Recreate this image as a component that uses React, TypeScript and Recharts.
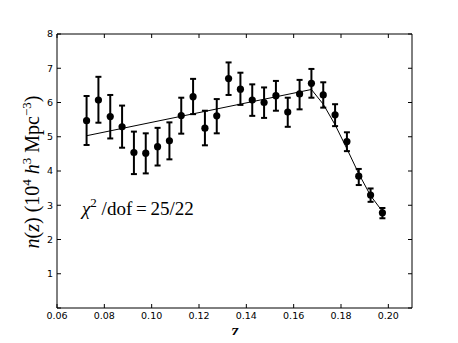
import { ComposedChart, Scatter, ErrorBar, XAxis, YAxis } from 'recharts'

// measured bins (redshift centres)
const zBins = [
  0.0725, 0.0775, 0.0825, 0.0875, 0.0925, 0.0975, 0.1025, 0.1075, 0.1125, 0.1175, 0.1225, 0.1275, 0.1325,
  0.1375, 0.1425, 0.1475, 0.1525, 0.1575, 0.1625, 0.1675, 0.1725, 0.1775, 0.1825, 0.1875, 0.1925, 0.1975,
]
const nValues = [
  5.47, 6.07, 5.59, 5.29, 4.54, 4.52, 4.71, 4.88, 5.62, 6.17, 5.25, 5.61, 6.7, 6.39, 6.07, 6.0, 6.2, 5.72,
  6.25, 6.56, 6.22, 5.64, 4.86, 3.85, 3.3, 2.78,
]
const errLow = [
  0.71, 0.66, 0.64, 0.61, 0.63, 0.59, 0.55, 0.54, 0.53, 0.51, 0.5, 0.51, 0.48, 0.46, 0.46, 0.45, 0.44, 0.43,
  0.45, 0.42, 0.37, 0.33, 0.28, 0.26, 0.2, 0.16,
]
const errHigh = [
  0.72, 0.68, 0.63, 0.62, 0.61, 0.58, 0.55, 0.54, 0.52, 0.52, 0.51, 0.49, 0.47, 0.48, 0.46, 0.44, 0.43, 0.42,
  0.41, 0.42, 0.37, 0.31, 0.27, 0.21, 0.19, 0.14,
]

// best-fit model
const fitZ = [0.0725, 0.1675, 0.1725, 0.1775, 0.1825, 0.1875, 0.1925, 0.1975]
const fitN = [5.03, 6.38, 5.95, 5.35, 4.65, 3.92, 3.28, 2.82]

const xTicks = [0.06, 0.08, 0.1, 0.12, 0.14, 0.16, 0.18, 0.2]
const yTicks = [0, 1, 2, 3, 4, 5, 6, 7, 8]

const points = zBins.map((z, i) => ({ z, n: nValues[i], err: [errLow[i], errHigh[i]] }))
const fit = fitZ.map((z, i) => ({ z, n: fitN[i] }))

const tickFont = { fontFamily: '"DejaVu Sans", sans-serif', fontSize: 9.5, fill: '#000' }
const serif = '"Liberation Serif", "DejaVu Serif", serif'

const Dot = (props: any) => <circle cx={props.cx} cy={props.cy} r={3.6} fill="#000" />
const NoDot = () => <g />

export default function App() {
  return (
    <div style={{ position: 'relative', width: 442, height: 327 }}>
      <ComposedChart width={442} height={327} margin={{ top: 25, right: 37, bottom: 0, left: 0 }}>
        <XAxis
          xAxisId="b"
          dataKey="z"
          type="number"
          domain={[0.06, 0.21]}
          ticks={xTicks}
          tickFormatter={(v: number) => v.toFixed(2)}
          tick={tickFont}
          tickSize={-4}
          tickMargin={8}
          height={27}
          stroke="#000"
          allowDataOverflow
        />
        <XAxis
          xAxisId="t"
          dataKey="z"
          orientation="top"
          type="number"
          domain={[0.06, 0.21]}
          ticks={xTicks}
          tickFormatter={() => ''}
          tickSize={-4}
          height={1}
          stroke="#000"
          allowDataOverflow
        />
        <YAxis
          yAxisId="l"
          type="number"
          domain={[0, 8]}
          ticks={yTicks}
          tickFormatter={(v: number) => (v === 0 ? '' : String(v))}
          tick={tickFont}
          tickSize={-4}
          tickMargin={8}
          width={49}
          stroke="#000"
          allowDataOverflow
        />
        <YAxis
          yAxisId="r"
          orientation="right"
          type="number"
          domain={[0, 8]}
          ticks={yTicks}
          tickFormatter={() => ''}
          tickSize={-4}
          width={1}
          stroke="#000"
          allowDataOverflow
        />
        <Scatter
          xAxisId="t"
          yAxisId="r"
          data={fit}
          dataKey="n"
          line={{ stroke: '#000', strokeWidth: 1 }}
          lineType="joint"
          shape={NoDot}
          isAnimationActive={false}
        />
        <Scatter xAxisId="b" yAxisId="l" data={points} dataKey="n" shape={Dot} isAnimationActive={false}>
          <ErrorBar dataKey="err" direction="y" width={3} strokeWidth={2} stroke="#000" isAnimationActive={false} />
        </Scatter>
      </ComposedChart>
      <svg
        width={442}
        height={335}
        style={{ position: 'absolute', left: 0, top: 0, pointerEvents: 'none', overflow: 'visible' }}
      >
        <text
          x={0}
          y={0}
          transform="translate(31 164) rotate(-90)"
          textAnchor="middle"
          fontFamily={serif}
          fontSize={20}
          fill="#000"
        >
          <tspan fontStyle="italic">n</tspan>
          <tspan>(</tspan>
          <tspan fontStyle="italic">z</tspan>
          <tspan>) (10</tspan>
          <tspan fontSize={13} dy={-8}>4</tspan>
          <tspan dy={8}> </tspan>
          <tspan fontStyle="italic">h</tspan>
          <tspan fontSize={13} dy={-8}>3</tspan>
          <tspan dy={8}> Mpc</tspan>
          <tspan fontSize={13} dy={-8}>−3</tspan>
          <tspan dy={8}>)</tspan>
        </text>
        <text x={227} y={330} textAnchor="middle" fontFamily={serif} fontSize={20} fontStyle="italic" fill="#000">
          z
        </text>
        <text x={74} y={207} fontFamily={serif} fontSize={19} fill="#000">
          <tspan fontStyle="italic">χ</tspan>
          <tspan fontSize={13} dy={-8}>2</tspan>
          <tspan dy={8}> /dof{'\u2009'}={'\u2009'}25/22</tspan>
        </text>
      </svg>
    </div>
  )
}
